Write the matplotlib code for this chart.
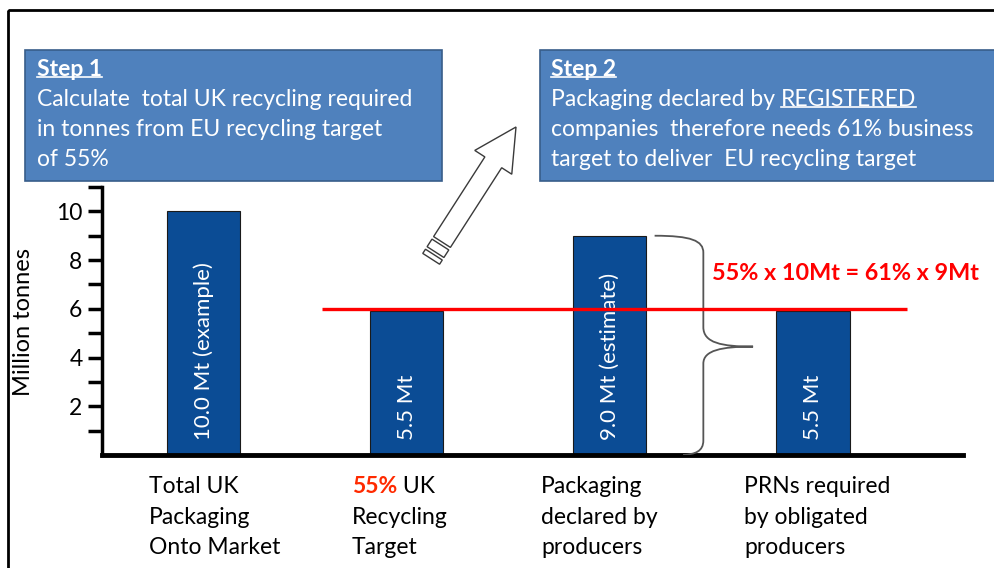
import numpy as np
import matplotlib
matplotlib.use("Agg")
import matplotlib.pyplot as plt
from matplotlib.patches import Rectangle, FancyArrow, Polygon, PathPatch
from matplotlib.path import Path
from matplotlib.lines import Line2D

plt.rcParams['font.family'] = ['Lato', 'DejaVu Sans']

# chart data
categories = [["Total UK", "Packaging", "Onto Market"],
              ["55% UK", "Recycling", "Target"],
              ["Packaging", "declared by", "producers"],
              ["PRNs required", "by obligated", "producers"]]
values = [10.0, 5.9, 9.0, 5.9]
bar_labels = ["10.0 Mt (example)", "5.5 Mt", "9.0 Mt (estimate)", "5.5 Mt"]
target_value = 6.0
yticks_major = [2, 4, 6, 8, 10]
yticks_minor = [1, 3, 5, 7, 9, 11]
equation = "55% x 10Mt = 61% x 9Mt"
step1_lines = ["Calculate  total UK recycling required",
               "in tonnes from EU recycling target",
               "of 55%"]
step2_lines = ["companies  therefore needs 61% business",
               "target to deliver  EU recycling target"]

W, H = 994, 568
BAR_BLUE = '#0B4C95'
BOX_BLUE = '#4F81BD'
BOX_FS = 16.5

fig = plt.figure(figsize=(W / 100, H / 100), dpi=100)

# pixel overlay for boxes, frame, arrow
bg = fig.add_axes([0, 0, 1, 1])
bg.set_xlim(0, W)
bg.set_ylim(H, 0)
bg.axis('off')

# bar axes
ax = fig.add_axes([102 / W, 1 - 455 / H, (963 - 102) / W, (455 - 187) / H])
ax.patch.set_alpha(0)
x = np.arange(len(values))
ax.bar(x, values, width=0.36, color=BAR_BLUE, edgecolor='#1a1a1a', linewidth=0.8, zorder=2)
ax.set_xlim(-0.502, 3.739)
ax.set_ylim(0, 11)

for i, lab in enumerate(bar_labels):
    ax.text(i, 0.6, lab, rotation=90, ha='center', va='bottom', color='white', fontsize=16, zorder=4)

# target line
ax.plot([0.582, 3.463], [target_value, target_value], color='#FF0000', lw=2.4, zorder=5, solid_capstyle='butt')

# brace next to the third bar
top, tip = values[2], values[2] / 2 - 0.05
verts = [(2.22, top), (2.40, top), (2.46, top - 0.2), (2.46, top - 0.7),
         (2.46, tip + 0.8),
         (2.46, tip + 0.15), (2.55, tip), (2.705, tip),
         (2.55, tip), (2.46, tip - 0.15), (2.46, tip - 0.7),
         (2.46, 0.6),
         (2.46, 0.15), (2.42, 0.03), (2.36, 0.0)]
codes = [Path.MOVETO, Path.CURVE4, Path.CURVE4, Path.CURVE4,
         Path.LINETO,
         Path.CURVE4, Path.CURVE4, Path.CURVE4,
         Path.CURVE4, Path.CURVE4, Path.CURVE4,
         Path.LINETO,
         Path.CURVE4, Path.CURVE4, Path.CURVE4]
ax.add_patch(PathPatch(Path(verts, codes), fill=False, ec='#555555', lw=1.3, zorder=3))

ax.text(2.503, 7.47, equation, color='#FF0000', fontsize=16.8, fontweight='bold', va='center', ha='left')

# axes styling
for s in ['top', 'right']:
    ax.spines[s].set_visible(False)
ax.spines['left'].set_linewidth(2.5)
ax.spines['bottom'].set_linewidth(3.5)
ax.set_xticks([])
ax.set_yticks(yticks_major)
ax.set_yticks(yticks_minor, minor=True)
ax.tick_params(axis='y', which='both', direction='out', length=10, width=2.5, labelsize=16.5, pad=4)
ax.set_ylabel("Million tonnes", fontsize=17)
ax.yaxis.set_label_coords(-0.079, 0.496)

# category labels under the bars
offsets = [-0.27, -0.27, -0.34, -0.34]
line_y = [-1.31, -2.55, -3.78]
for i, lines in enumerate(categories):
    for j, line in enumerate(lines):
        if line.startswith("55%"):
            t = ax.text(i + offsets[i], line_y[j], "55%", color='#FF2A00', fontweight='bold',
                        fontsize=16.5, va='center', ha='left', clip_on=False)
            ax.annotate(" UK", xy=(1, 0), xycoords=t, fontsize=16.5, va='bottom', ha='left')
        else:
            ax.text(i + offsets[i], line_y[j], line, fontsize=16.5, va='center', ha='left', clip_on=False)

# frame
bg.add_patch(Rectangle((8, 10), 1200, 800, fill=False, ec='black', lw=2))

# step boxes
bg.add_patch(Rectangle((25, 50), 417, 131, fc=BOX_BLUE, ec='#385D8A', lw=1.2))
bg.add_patch(Rectangle((540, 50), 500, 131, fc=BOX_BLUE, ec='#385D8A', lw=1.2))

underlined = []
t = bg.text(37, 70, "Step 1", color='white', fontsize=BOX_FS, fontweight='bold', va='center')
underlined.append(t)
for k, line in enumerate(step1_lines):
    bg.text(37, 100 + 30 * k, line, color='white', fontsize=BOX_FS, va='center')

t = bg.text(551, 70, "Step 2", color='white', fontsize=BOX_FS, fontweight='bold', va='center')
underlined.append(t)
t = bg.text(551, 100, "Packaging declared by", color='white', fontsize=BOX_FS, va='center')
t2 = bg.annotate("REGISTERED", xy=(1, 0), xycoords=t, xytext=(4, 0), textcoords='offset points',
                 color='white', fontsize=BOX_FS, va='bottom', ha='left')
underlined.append(t2)
for k, line in enumerate(step2_lines):
    bg.text(551, 130 + 30 * k, line, color='white', fontsize=BOX_FS, va='center')

# hollow arrow with striped tail
tail = np.array([442.0, 242.0])
d = np.array([74.0, -115.0])
bg.add_patch(FancyArrow(tail[0], tail[1], d[0], d[1], width=20, head_width=44, head_length=42,
                        length_includes_head=True, fc='white', ec='#3a3a3a', lw=1.0))
u = d / np.linalg.norm(d)
n = np.array([-u[1], u[0]])
for d0, d1 in [(3, 12), (15, 20)]:
    a = tail - u * d0
    b = tail - u * d1
    bg.add_patch(Polygon([a + n * 10, a - n * 10, b - n * 10, b + n * 10],
                         closed=True, fc='white', ec='#3a3a3a', lw=1.0))

# underline the marked texts
fig.canvas.draw()
inv = bg.transData.inverted()
for t in underlined:
    bb = t.get_window_extent()
    yl = bb.y0 + 0.17 * bb.height
    p0 = inv.transform((bb.x0, yl))
    p1 = inv.transform((bb.x1, yl))
    bg.add_line(Line2D([p0[0], p1[0]], [p0[1], p1[1]], color='white', lw=1.2))

fig.savefig('out.png', dpi=100)
